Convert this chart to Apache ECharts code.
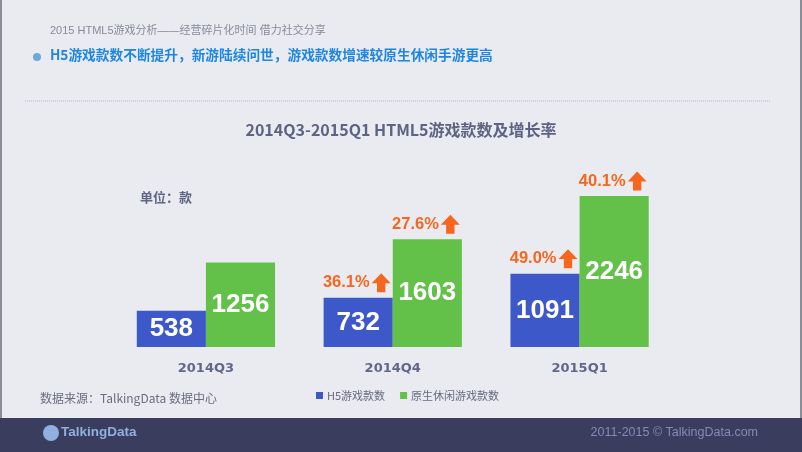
<!DOCTYPE html>
<html><head><meta charset="utf-8">
<script src="https://cdn.jsdelivr.net/npm/echarts@6/dist/echarts.min.js"></script>
<style>html,body{margin:0;padding:0;background:#eaebf0;}#c{width:802px;height:452px;}</style>
</head><body><div id="c"></div>
<script>
const categories = ['2014Q3', '2014Q4', '2015Q1'];
const h5Counts = [538, 732, 1091];
const nativeCounts = [1256, 1603, 2246];
const h5Growth = [null, '36.1%', '49.0%'];
const nativeGrowth = [null, '27.6%', '40.1%'];
const seriesNames = ['H5游戏款数', '原生休闲游戏款数'];

const CJK = "'Noto Sans CJK SC', sans-serif";
const NUM = "'Liberation Sans', Arial, sans-serif";
const arrowPath = 'path://M50,0 L100,52 L72,52 L72,100 L28,100 L28,52 L0,52 Z';

function growthMarks(values, growth) {
  const out = [];
  growth.forEach((g, i) => { if (g) out.push({ coord: [i, values[i]], value: g }); });
  return out;
}
function markCfg(values, growth) {
  return {
    symbol: arrowPath, symbolSize: [19, 19], symbolOffset: [23, -15],
    itemStyle: { color: '#f5661f' },
    label: { show: true, position: 'left', distance: 2, formatter: p => p.value,
      color: '#f5661f', fontFamily: NUM, fontWeight: 'bold', fontSize: 16.5 },
    data: growthMarks(values, growth)
  };
}

const chart = echarts.init(document.getElementById('c'), null, { renderer: 'canvas' });
chart.setOption({
  backgroundColor: '#eaebf0',
  animation: false,
  title: { text: '2014Q3-2015Q1 HTML5游戏款数及增长率', left: 'center', top: 117,
    textStyle: { fontFamily: CJK, fontSize: 16, fontWeight: 'bold', color: '#5d6382' } },
  legend: { left: 311, top: 385, itemWidth: 7, itemHeight: 7, itemGap: 15, icon: 'rect',
    textStyle: { fontFamily: CJK, fontSize: 11, color: '#666a80', padding: [0, 0, 0, -1] }, data: seriesNames },
  grid: { left: 112.5, right: 129, top: 179, bottom: 105 },
  xAxis: { type: 'category', data: categories,
    axisLine: { show: false }, axisTick: { show: false },
    axisLabel: { margin: 15, fontFamily: "'DejaVu Sans', sans-serif", fontWeight: 'bold', fontSize: 13, color: '#60678a' } },
  yAxis: { type: 'value', min: 0, max: 2500, show: false, splitLine: { show: false } },
  series: [
    { name: seriesNames[0], type: 'bar', data: h5Counts, barGap: '0%', barCategoryGap: '26%',
      itemStyle: { color: '#3d58c8' },
      label: { show: true, position: 'inside', color: '#fff', fontFamily: NUM, fontWeight: 'bold', fontSize: 26 },
      markPoint: markCfg(h5Counts, h5Growth) },
    { name: seriesNames[1], type: 'bar', data: nativeCounts, barGap: '0%', barCategoryGap: '26%',
      itemStyle: { color: '#63c14a' },
      label: { show: true, position: 'inside', color: '#fff', fontFamily: NUM, fontWeight: 'bold', fontSize: 26 },
      markPoint: markCfg(nativeCounts, nativeGrowth) }
  ],
  graphic: [
    { type: 'rect', left: 0, top: 0, z: -10, shape: { width: 2, height: 452 }, style: { fill: '#8a8c98' } },
    { type: 'rect', left: 800, top: 0, z: -10, shape: { width: 2, height: 452 }, style: { fill: '#8a8c98' } },
    { type: 'text', left: 50, top: 25, style: { text: '2015 HTML5游戏分析——经营碎片化时间 借力社交分享',
      font: "11px 'Liberation Sans', 'Noto Sans CJK SC', sans-serif", fill: '#878a9a' } },
    { type: 'circle', shape: { cx: 37, cy: 57, r: 4 }, style: { fill: '#6ea7d9' } },
    { type: 'text', left: 50, top: 48, style: { text: 'H5游戏款数不断提升，新游陆续问世，游戏款数增速较原生休闲手游更高',
      font: "bold 13.7px 'Noto Sans CJK SC', sans-serif", fill: '#1e86e0' } },
    { type: 'line', shape: { x1: 25, y1: 101, x2: 771, y2: 101 }, style: { stroke: '#b5b7c6', lineWidth: 1, lineDash: [1, 1] } },
    { type: 'text', left: 140, top: 191, style: { text: '单位：款', font: "bold 13px 'Noto Sans CJK SC', sans-serif", fill: '#5f6784' } },
    { type: 'text', left: 40, top: 392, style: { text: '数据来源：TalkingData 数据中心', font: "12px 'Noto Sans CJK SC', sans-serif", fill: '#6a6d80' } },
    { type: 'rect', left: 0, top: 418, shape: { width: 802, height: 34 }, style: { fill: '#3b3d5e' } },
    { type: 'circle', shape: { cx: 51, cy: 433, r: 8 }, style: { fill: '#8fb0e0' } },
    { type: 'text', left: 61, top: 425, style: { text: 'TalkingData', font: "bold 13.5px 'Liberation Sans', sans-serif", fill: '#8fb0e0' } },
    { type: 'text', right: 44, top: 426, style: { text: '2011-2015 © TalkingData.com', font: "12.5px 'Liberation Sans', Arial, sans-serif", fill: '#858bb3' } }
  ]
});
</script></body></html>
